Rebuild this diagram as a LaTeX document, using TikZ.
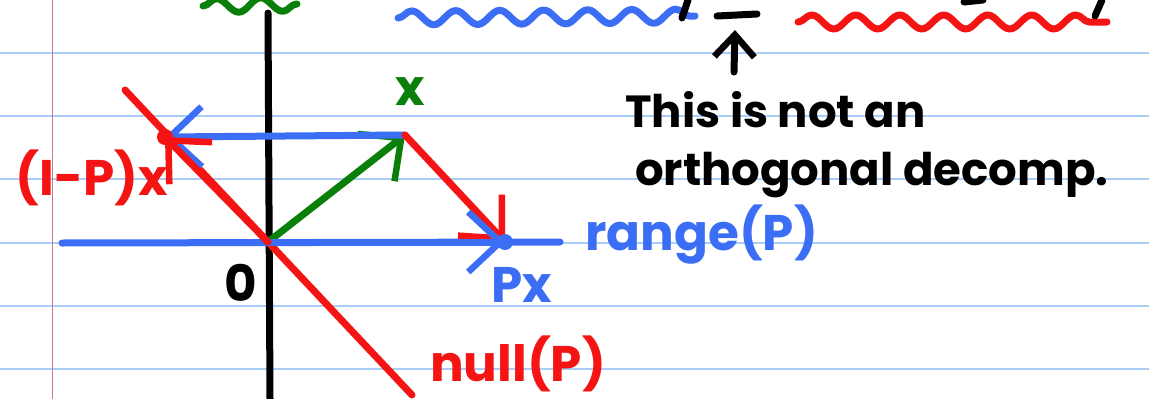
\documentclass[tikz,border=0pt]{standalone}
\usepackage{fontspec}
\setmainfont{Poppins}
\usetikzlibrary{arrows.meta, positioning, decorations.pathmorphing}
\definecolor{inkblue}{HTML}{3B6EF5}
\definecolor{inkred}{HTML}{F51414}
\definecolor{inkgreen}{HTML}{0A800A}
\definecolor{ruleblue}{HTML}{A8CDF7}
\definecolor{marginpink}{HTML}{C97A93}

\begin{document}
\begin{tikzpicture}[x=1pt, y=-1pt, line cap=round, line join=round,
  ink/.style={line width=7pt},
  tip/.style={-{Straight Barb[length=32pt, width=60pt, line width=6.5pt]}},
  smalltip/.style={-{Straight Barb[length=22pt, width=40pt, line width=6.5pt]}},
  wave/.style={ink, decorate, decoration={snake, amplitude=7pt, segment length=44pt}},
  hand/.style={font=\fontsize{50}{60}\selectfont\bfseries, inner sep=0pt},
  note/.style={font=\fontsize{45}{60}\selectfont\bfseries, inner sep=0pt}]

% ---- paper ---------------------------------------------------------------
\fill[white] (0,0) rectangle (1149,399);
\useasboundingbox (0,0) rectangle (1149,399);
\foreach \y in {52.7,116,179.3,242.7,306,369.3}
  \draw[ruleblue, line width=2pt] (0,\y) -- (1149,\y);
\draw[marginpink, line width=1.5pt] (52.7,0) -- (52.7,399);

% ---- top (cut off) -------------------------------------------------------
\draw[wave, inkgreen] (203,6) -- (297,4);
\draw[wave, inkblue]  (398,18) -- (695,16);
\draw[wave, inkred]   (798,22) -- (1107,22);
\draw[ink] (717,16) -- (757,14);
\coordinate (upS) at (734,72);
\coordinate (upE) at (735,30);
\draw[ink, smalltip] (upS) -- (upE);
\draw[ink] (688,0) -- (682,18);
\draw[ink] (964,2) -- (983,0);
\draw[ink] (1102,0) -- (1095,16);

% ---- axes and subspaces --------------------------------------------------
\coordinate (o)  at (268,242);
\coordinate (xv) at (405,135);
\coordinate (px) at (505,242);
\coordinate (ipx) at (165,137);
\coordinate (axT) at (268,13);
\coordinate (axB) at (270,399);
\coordinate (rL) at (62,243);
\coordinate (rR) at (560,242);
\coordinate (nT) at (125,90);
\coordinate (nB) at (412,395);

\draw[ink] (axT) -- (axB);
\draw[ink, inkblue] (rL) -- (rR);
\draw[ink, inkred] (nT) -- (nB);

% ---- decomposition -------------------------------------------------------
\draw[ink, inkgreen, tip] (o) -- (xv);
\draw[ink, inkblue, tip] (xv) -- (ipx);
\draw[ink, inkred, tip] (xv) -- (px);
\draw[ink, inkblue, tip] (o) -- (px);
\draw[ink, inkred, tip] (o) -- (ipx);
\fill[inkred]  (ipx) circle (8pt);
\fill[inkblue] (px)  circle (8pt);

% ---- labels --------------------------------------------------------------
\node[hand, text=inkgreen] (xlab) at (410,92) {x};
\node[hand, text=inkred] (ipxlab) at (92,178) {(I-P)x};
\node[hand] (zero) at (241,283) {0};
\node[hand, text=inkblue] (pxlab) at (522,285) {Px};
\node[hand, text=inkblue, anchor=west] (rangelab) at (585,235) {range(P)};
\node[hand, text=inkred, anchor=west] (nulllab) at (430,364) {null(P)};
\node[note, anchor=base west] (note1) at (625,127) {This is not an};
\node[note, anchor=base west] (note2) at (635,185) {orthogonal decomp.};
\end{tikzpicture}
\end{document}
